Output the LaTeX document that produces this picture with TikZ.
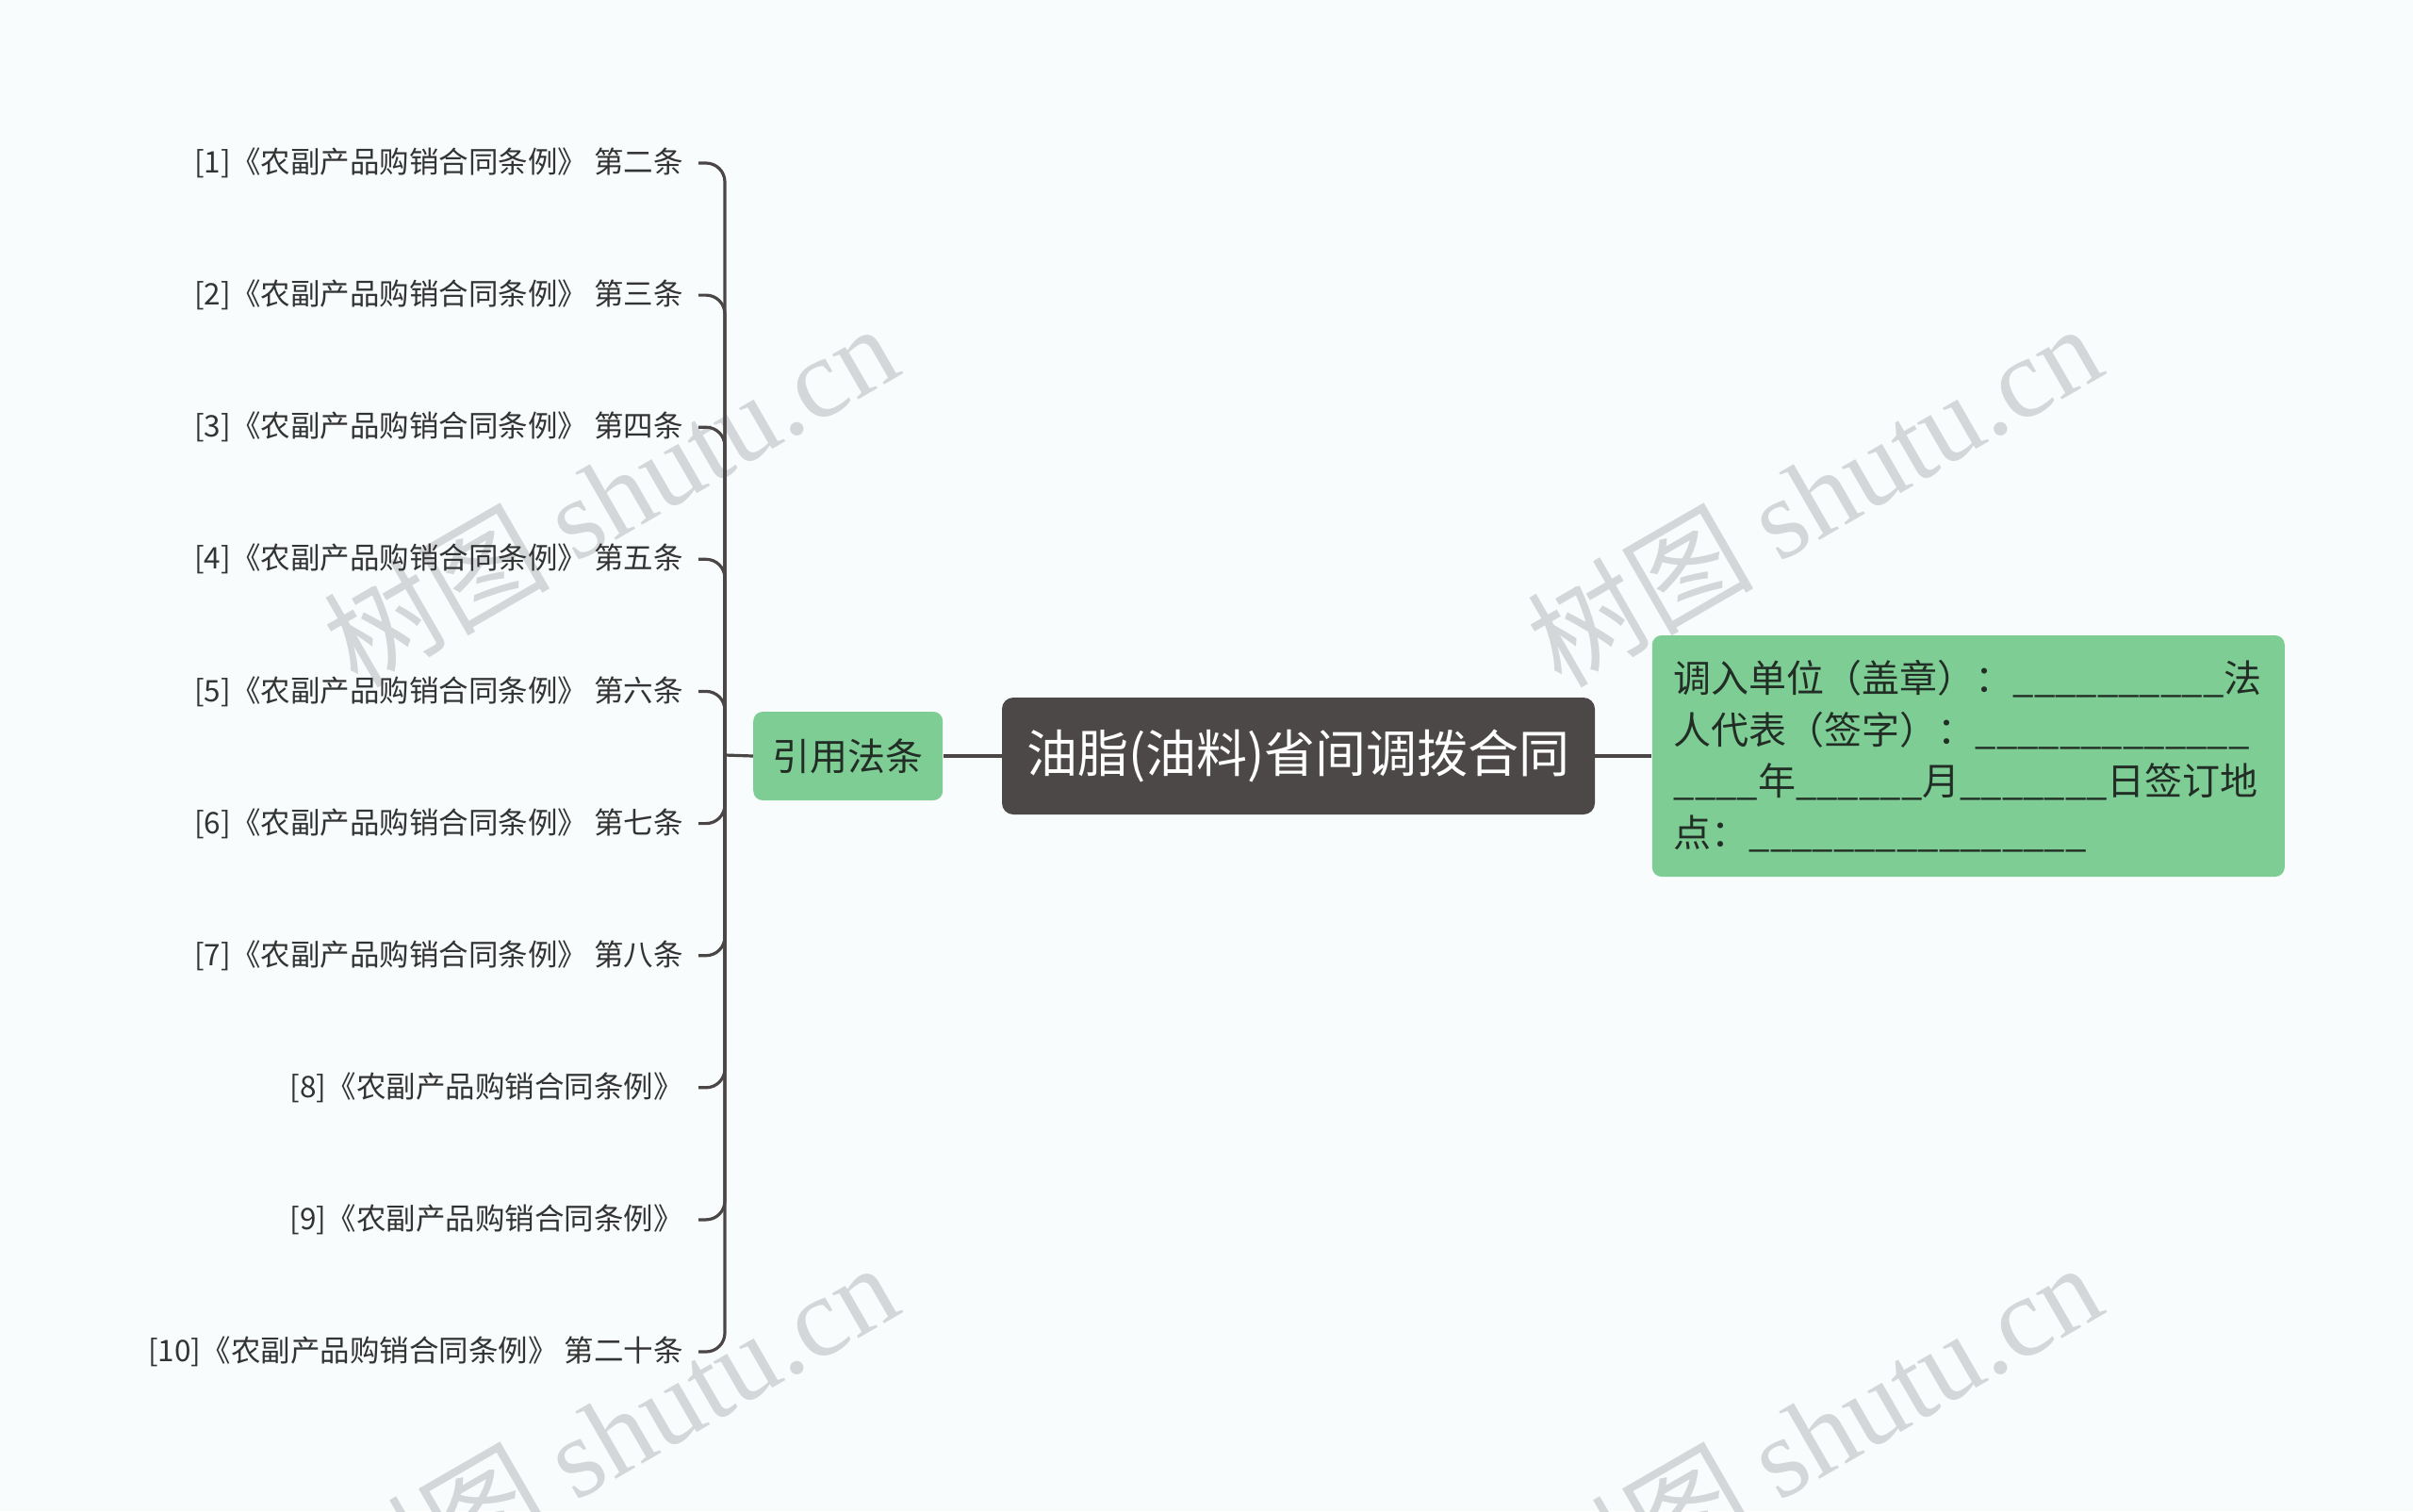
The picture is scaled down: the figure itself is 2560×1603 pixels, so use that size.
\documentclass[tikz,border=0pt]{standalone}
\usepackage{fontspec}
\setmainfont{Noto Sans CJK SC}
\newfontfamily\markfont{Liberation Serif}
\usetikzlibrary{positioning}

\definecolor{bgcol}{RGB}{248,252,252}
\definecolor{linecol}{RGB}{74,70,70}
\definecolor{titlecol}{RGB}{77,72,72}
\definecolor{greencol}{RGB}{126,205,148}
\definecolor{leaftext}{RGB}{51,51,51}
\definecolor{greentext}{RGB}{34,45,38}
\definecolor{marktext}{RGB}{212,215,217}

\begin{document}
\begin{tikzpicture}[x=0.5pt,y=-0.5pt,
    title/.style={fill=titlecol,rounded corners=6pt,text=white,inner sep=0pt,
                  minimum width=314.5pt,minimum height=62pt,font=\fontsize{27}{32}\selectfont},
    refbox/.style={fill=greencol,rounded corners=5pt,text=greentext,inner sep=0pt,
                   minimum width=100.5pt,minimum height=47pt,font=\fontsize{20}{24}\selectfont},
    notebox/.style={fill=greencol,rounded corners=5pt,text=greentext,text width=312.5pt,
                    align=left,inner xsep=11.5pt,inner ysep=0pt,minimum height=128pt,
                    font=\fontsize{20}{27.25}\selectfont},
    leaf/.style={anchor=east,inner xsep=8pt,inner ysep=0pt,text=leaftext,
                 font=\fontsize{15.75}{18}\selectfont},
    link/.style={draw=linecol,line width=1.6pt,rounded corners=10pt},
    wmark/.style={rotate=30,text=marktext,inner sep=0pt,font=\fontsize{60}{60}\selectfont}]

  \fill[bgcol] (0,0) rectangle (2560,1603);
  \clip (0,0) rectangle (2560,1603);

  % watermarks
  \node[wmark] (wm1) at (647,524)   {树图 {\markfont shutu.cn}};
  \node[wmark] (wm2) at (1924,524)  {树图 {\markfont shutu.cn}};
  \node[wmark] (wm3) at (647,1520)  {树图 {\markfont shutu.cn}};
  \node[wmark] (wm4) at (1924,1520) {树图 {\markfont shutu.cn}};

  \node[title]   (main) at (1377.5,802)     {油脂(油料)省间调拨合同};
  \node[refbox]  (ref)  [left=31pt of main] {引用法条};
  \node[notebox] (note) [right=30pt of main]
    {调入单位（盖章）：\_\_\_\_\_\_\_\_\_\_法\\
     人代表（签字）：\_\_\_\_\_\_\_\_\_\_\_\_\_\\
     \_\_\_\_年\_\_\_\_\_\_月\_\_\_\_\_\_\_日签订地\\
     点：\_\_\_\_\_\_\_\_\_\_\_\_\_\_\_\_};

  \coordinate (hub) at (769,801);

  \node[leaf] (l1)  at (741,173)    {[1]《农副产品购销合同条例》 第二条};
  \node[leaf] (l2)  at (741,313.1)  {[2]《农副产品购销合同条例》 第三条};
  \node[leaf] (l3)  at (741,453.2)  {[3]《农副产品购销合同条例》 第四条};
  \node[leaf] (l4)  at (741,593.3)  {[4]《农副产品购销合同条例》 第五条};
  \node[leaf] (l5)  at (741,733.4)  {[5]《农副产品购销合同条例》 第六条};
  \node[leaf] (l6)  at (741,873.6)  {[6]《农副产品购销合同条例》 第七条};
  \node[leaf] (l7)  at (741,1013.7) {[7]《农副产品购销合同条例》 第八条};
  \node[leaf] (l8)  at (741,1153.8) {[8]《农副产品购销合同条例》};
  \node[leaf] (l9)  at (741,1293.9) {[9]《农副产品购销合同条例》};
  \node[leaf] (l10) at (741,1434)   {[10]《农副产品购销合同条例》 第二十条};

  \draw[link] (main.east) -- (note.west);
  \draw[link] (main.west) -- (ref.east);
  \draw[link] (ref.west) -- (hub);
  \draw[link] (hub) |- (l1.east);
  \draw[link] (hub) |- (l2.east);
  \draw[link] (hub) |- (l3.east);
  \draw[link] (hub) |- (l4.east);
  \draw[link] (hub) |- (l5.east);
  \draw[link] (hub) |- (l6.east);
  \draw[link] (hub) |- (l7.east);
  \draw[link] (hub) |- (l8.east);
  \draw[link] (hub) |- (l9.east);
  \draw[link] (hub) |- (l10.east);
\end{tikzpicture}
\end{document}
